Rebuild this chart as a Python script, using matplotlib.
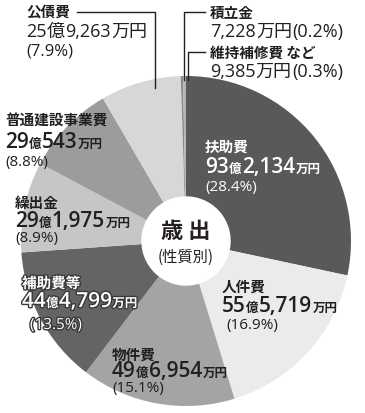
import matplotlib
matplotlib.use('Agg')
import matplotlib.pyplot as plt
import matplotlib.patheffects as pe
from matplotlib.patches import Circle

plt.rcParams['font.family'] = ['Noto Sans CJK JP', 'DejaVu Sans']

W, H = 365, 413

# data (万円)
names = ['扶助費', '人件費', '物件費', '補助費等', '繰出金', '普通建設事業費', '公債費', '積立金', '維持補修費 など']
values = [932134, 555719, 496954, 444799, 291975, 290543, 259263, 7228, 9385]
oku = ['93', '55', '49', '44', '29', '29', '25', '', '']
man = ['2,134', '5,719', '6,954', '4,799', '1,975', '543', '9,263', '7,228', '9,385']
pcts = ['28.4', '16.9', '15.1', '13.5', '8.9', '8.8', '7.9', '0.2', '0.3']
colors = ['#59595b', '#ebebeb', '#a4a4a4', '#646464', '#c6c6c6', '#9c9c9c', '#d7d7d7', '#8a8a8a', '#b5b5b5']

fig = plt.figure(figsize=(W / 100, H / 100), dpi=100)
ax = fig.add_axes([0, 0, 1, 1])
ax.set_xlim(0, W)
ax.set_ylim(0, H)
ax.axis('off')

cx, cy, R = 186, H - 241, 165
ax.pie(values, colors=colors, startangle=90, counterclock=False,
       center=(cx, cy), radius=R, wedgeprops=dict(linewidth=0))
ax.set_xlim(0, W)
ax.set_ylim(0, H)
ax.set_aspect('equal')
ax.add_patch(Circle((cx, cy), 44, color='white', zorder=5))

fig.canvas.draw()
rend = fig.canvas.get_renderer()
NUM = ['Open Sans', 'Noto Sans CJK JP']


def rich(x, y, parts, color='#231f20', fx=None):
    # parts: (text, size, weight, family); y is baseline in image coords
    for txt, size, weight, fam in parts:
        t = ax.text(x, H - y, txt, fontsize=size, fontweight=weight, color=color,
                    family=fam, ha='left', va='baseline', zorder=10)
        if fx:
            t.set_path_effects(fx)
        x = t.get_window_extent(rend).x1 + 0.3


JP = ['Noto Sans CJK JP']


def label(i, x, y1, y2, y3, x3=None, color='#231f20', fx=None):
    rich(x, y1, [(names[i], 10.5, 'bold', JP)], color, fx)
    big, small = 15, 9
    rich(x, y2, [(oku[i], big, 'semibold', NUM), ('億', small, 'bold', JP),
                 (man[i], big, 'semibold', NUM), ('万円', small, 'bold', JP)], color, fx)
    rich(x3 if x3 else x, y3, [('(' + pcts[i] + '%)', 11, 'normal', NUM)], color, fx)


label(0, 205, 152, 173, 191, color='white')
label(1, 222, 292, 312, 329, x3=226)
label(2, 112, 360, 377, 392)
label(3, 22, 288, 307, 329, x3=30, color='white',
      fx=[pe.withStroke(linewidth=2, foreground='#3a3a3a')])
label(4, 15, 208, 227, 242)
label(5, 5, 126, 148, 166)

# top labels
rich(26, 18, [(names[6], 10.5, 'bold', JP)])
rich(26, 37, [('25', 13, 'normal', NUM), ('億', 13, 'normal', JP),
              ('9,263', 13, 'normal', NUM), ('万円', 13, 'normal', JP)])
rich(26, 55, [('(7.9%)', 12, 'normal', NUM)])
rich(210, 18, [(names[7], 10.5, 'bold', JP)])
rich(210, 37, [('7,228', 13, 'normal', NUM), ('万円', 13, 'normal', JP), ('(0.2%)', 13, 'normal', NUM)])
rich(210, 58, [(names[8], 10.5, 'bold', JP)])
rich(210, 77, [('9,385', 13, 'normal', NUM), ('万円', 13, 'normal', JP), ('(0.3%)', 13, 'normal', NUM)])

lk = dict(color='#231f20', lw=1, zorder=8)
ax.plot([77, 155, 155], [H - 12, H - 12, H - 88], **lk)
ax.plot([205, 184, 184], [H - 12, H - 12, H - 80], **lk)
ax.plot([205, 187.5, 187.5], [H - 52, H - 52, H - 80], **lk)

ax.text(cx, H - 238, '歳 出', fontsize=16, fontweight='bold', color='#231f20',
        ha='center', va='baseline', zorder=10)
ax.text(cx, H - 262, '(性質別)', fontsize=11, color='#231f20',
        ha='center', va='baseline', zorder=10)

fig.savefig('out.png', dpi=100)
